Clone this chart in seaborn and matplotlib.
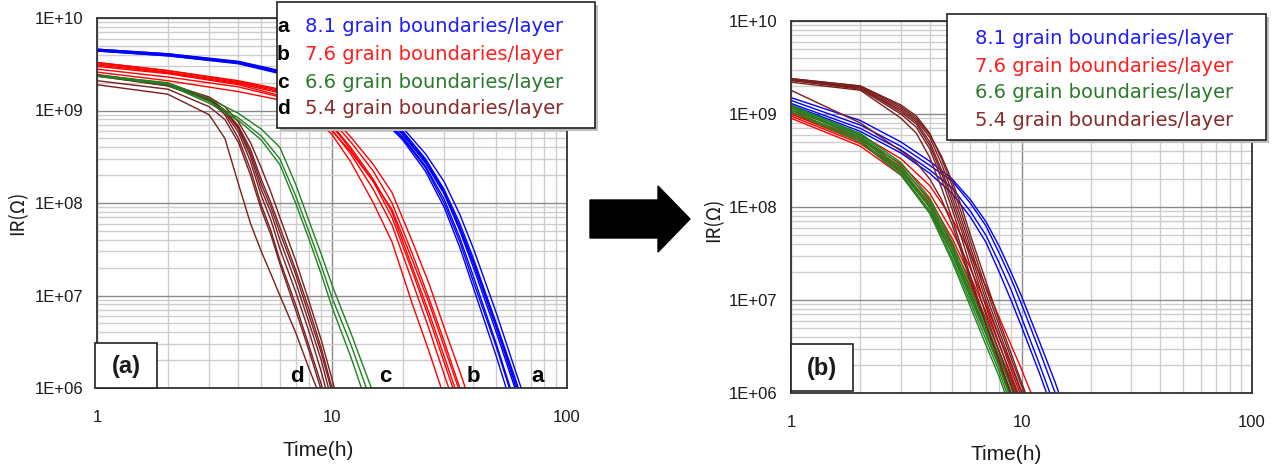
import numpy as np
import pandas as pd
import matplotlib
matplotlib.use("Agg")
import matplotlib.pyplot as plt
from matplotlib.patches import Rectangle, Polygon
from matplotlib.ticker import LogLocator, FixedLocator, FixedFormatter, NullFormatter
import seaborn as sns

# ---------------- data ----------------
groups = ["8.1", "7.6", "6.6", "5.4"]
group_letters = ["a", "b", "c", "d"]
legend_labels = [
    "8.1 grain boundaries/layer",
    "7.6 grain boundaries/layer",
    "6.6 grain boundaries/layer",
    "5.4 grain boundaries/layer",
]
line_colors = ["#0000ff", "#ff0000", "#1f821f", "#7b1d1d"]
text_colors = ["#1c1cff", "#ff1e1e", "#2a7a2a", "#8b2a2a"]

y_ticks = [1e6, 1e7, 1e8, 1e9, 1e10]
y_ticklabels = ["1E+06", "1E+07", "1E+08", "1E+09", "1E+10"]
x_ticks = [1, 10, 100]
x_ticklabels = ["1", "10", "100"]

# panel (a): IR (ohm) vs time (h) for each sample
a_time_81 = [1, 2, 4, 6, 10, 15, 20, 25, 30, 35, 40, 50, 60, 70]
a_ir_81 = [
    [4.5e9, 4.0e9, 3.3e9, 2.6e9, 2.0e9, 1.1e9, 5.6e8, 2.8e8, 1.3e8, 5.0e7, 2.0e7, 4.0e6, 1.0e6, 3.2e5],
    [4.4e9, 3.9e9, 3.2e9, 2.5e9, 1.9e9, 1.0e9, 4.8e8, 2.2e8, 9.0e7, 3.3e7, 1.2e7, 2.2e6, 5.0e5, 1.5e5],
    [4.6e9, 4.1e9, 3.4e9, 2.7e9, 2.1e9, 1.2e9, 6.5e8, 3.4e8, 1.7e8, 7.5e7, 3.2e7, 6.5e6, 1.6e6, 5.0e5],
    [4.5e9, 4.0e9, 3.3e9, 2.6e9, 2.0e9, 1.15e9, 6.0e8, 3.0e8, 1.4e8, 6.0e7, 2.5e7, 5.0e6, 1.3e6, 4.0e5],
    [4.4e9, 3.9e9, 3.25e9, 2.55e9, 1.95e9, 1.05e9, 5.2e8, 2.5e8, 1.1e8, 4.2e7, 1.6e7, 3.0e6, 7.0e5, 2.0e5],
    [4.6e9, 4.1e9, 3.35e9, 2.65e9, 2.05e9, 1.15e9, 5.8e8, 2.9e8, 1.35e8, 5.5e7, 2.3e7, 4.8e6, 1.2e6, 3.5e5],
    [4.5e9, 4.0e9, 3.3e9, 2.6e9, 1.95e9, 1.05e9, 5.0e8, 2.4e8, 1.0e8, 3.8e7, 1.4e7, 2.8e6, 6.5e5, 2.0e5],
    [4.5e9, 4.0e9, 3.3e9, 2.6e9, 2.0e9, 1.1e9, 5.5e8, 2.7e8, 1.25e8, 5.2e7, 2.2e7, 4.5e6, 1.1e6, 3.4e5],
]
a_time_76 = [1, 2, 4, 6, 8, 10, 12, 15, 18, 22, 26, 30, 35, 40]
a_ir_76 = [
    [3.2e9, 2.6e9, 2.0e9, 1.6e9, 1.1e9, 7.0e8, 4.0e8, 1.8e8, 8.0e7, 2.0e7, 6.3e6, 2.2e6, 7.0e5, 2.5e5],
    [3.0e9, 2.5e9, 1.9e9, 1.45e9, 9.5e8, 5.5e8, 2.8e8, 1.0e8, 3.8e7, 8.0e6, 2.4e6, 8.0e5, 2.5e5, 1.0e5],
    [3.3e9, 2.7e9, 2.1e9, 1.7e9, 1.25e9, 8.5e8, 5.2e8, 2.6e8, 1.3e8, 3.8e7, 1.3e7, 4.5e6, 1.5e6, 5.5e5],
    [2.8e9, 2.3e9, 1.8e9, 1.4e9, 1.0e9, 6.2e8, 3.4e8, 1.4e8, 5.8e7, 1.4e7, 4.2e6, 1.4e6, 4.5e5, 1.6e5],
    [3.3e9, 2.7e9, 2.05e9, 1.65e9, 1.2e9, 7.8e8, 4.6e8, 2.2e8, 1.0e8, 2.8e7, 9.0e6, 3.2e6, 1.0e6, 3.5e5],
    [3.1e9, 2.55e9, 1.95e9, 1.55e9, 1.1e9, 6.8e8, 3.8e8, 1.7e8, 7.0e7, 1.8e7, 5.5e6, 1.9e6, 6.0e5, 2.0e5],
    [2.6e9, 2.1e9, 1.6e9, 1.3e9, 9.2e8, 6.0e8, 3.6e8, 1.7e8, 8.5e7, 2.4e7, 8.0e6, 2.8e6, 9.0e5, 3.2e5],
]
a_time_66 = [1, 2, 3, 4, 5, 6, 7, 8, 9, 10, 12, 14, 16]
a_ir_66 = [
    [2.4e9, 2.0e9, 1.35e9, 9.3e8, 6.3e8, 4.0e8, 1.6e8, 6.3e7, 2.8e7, 1.3e7, 4.0e6, 1.4e6, 5.6e5],
    [2.4e9, 1.95e9, 1.25e9, 8.3e8, 5.3e8, 3.0e8, 1.2e8, 4.8e7, 2.1e7, 9.5e6, 3.0e6, 1.0e6, 4.0e5],
    [2.35e9, 1.9e9, 1.2e9, 7.8e8, 4.8e8, 2.6e8, 1.0e8, 4.0e7, 1.7e7, 7.5e6, 2.2e6, 7.0e5, 2.8e5],
]
a_time_54 = [1, 2, 3, 3.5, 4, 4.5, 5, 5.5, 6, 7, 8, 9, 10, 11]
a_ir_54 = [
    [2.4e9, 1.9e9, 1.35e9, 1.0e9, 6.3e8, 3.2e8, 1.4e8, 7.9e7, 4.0e7, 1.4e7, 5.0e6, 2.0e6, 7.1e5, 3.2e5],
    [1.9e9, 1.5e9, 9.0e8, 5.0e8, 1.6e8, 6.0e7, 3.0e7, 1.7e7, 1.0e7, 4.0e6, 1.6e6, 7.5e5, 3.2e5, 1.5e5],
    [2.4e9, 1.85e9, 1.3e9, 9.0e8, 5.0e8, 2.3e8, 9.5e7, 5.0e7, 2.4e7, 8.0e6, 2.8e6, 1.1e6, 4.0e5, 1.8e5],
    [2.4e9, 1.9e9, 1.35e9, 1.0e9, 6.5e8, 3.5e8, 1.6e8, 9.0e7, 4.8e7, 1.7e7, 6.0e6, 2.4e6, 9.0e5, 4.0e5],
    [2.45e9, 1.95e9, 1.4e9, 1.1e9, 7.5e8, 4.5e8, 2.4e8, 1.3e8, 7.0e7, 2.4e7, 8.5e6, 3.3e6, 1.25e6, 5.0e5],
    [2.35e9, 1.85e9, 1.3e9, 9.5e8, 5.8e8, 2.8e8, 1.2e8, 6.5e7, 3.2e7, 1.1e7, 4.0e6, 1.5e6, 5.5e5, 2.3e5],
    [2.4e9, 1.9e9, 1.35e9, 1.0e9, 6.8e8, 3.8e8, 1.8e8, 1.0e8, 5.5e7, 1.9e7, 7.0e6, 2.7e6, 1.0e6, 4.2e5],
    [2.1e9, 1.7e9, 1.1e9, 8.0e8, 4.5e8, 2.0e8, 8.5e7, 4.5e7, 2.2e7, 7.0e6, 2.5e6, 9.5e5, 3.8e5, 1.6e5],
]

# panel (b)
b_time_81 = [1, 2, 3, 4, 5, 6, 7, 8, 9, 10, 12, 14, 16]
b_ir_81 = [
    [1.4e9, 7.6e8, 4.5e8, 2.8e8, 1.9e8, 1.1e8, 6.3e7, 3.2e7, 1.7e7, 9.0e6, 2.8e6, 1.0e6, 4.0e5],
    [1.5e9, 8.5e8, 5.0e8, 3.1e8, 2.0e8, 1.2e8, 7.0e7, 3.8e7, 2.0e7, 1.1e7, 3.5e6, 1.3e6, 5.0e5],
    [1.25e9, 6.5e8, 3.8e8, 2.3e8, 1.4e8, 7.8e7, 4.2e7, 2.0e7, 1.0e7, 5.2e6, 1.6e6, 5.5e5, 2.2e5],
    [1.3e9, 7.0e8, 4.1e8, 2.5e8, 1.6e8, 9.0e7, 5.0e7, 2.5e7, 1.3e7, 6.5e6, 2.0e6, 7.0e5, 2.8e5],
]
b_time_76 = [1, 2, 3, 4, 5, 6, 7, 8, 9, 10, 11, 12]
b_ir_76 = [
    [1.0e9, 5.0e8, 2.5e8, 1.1e8, 4.0e7, 1.6e7, 6.3e6, 2.8e6, 1.4e6, 7.0e5, 4.0e5, 2.2e5],
    [9.0e8, 4.5e8, 2.2e8, 9.0e7, 3.2e7, 1.2e7, 4.5e6, 2.0e6, 9.5e5, 4.8e5, 2.5e5, 1.4e5],
    [1.05e9, 5.5e8, 2.9e8, 1.4e8, 5.5e7, 2.2e7, 9.0e6, 4.0e6, 2.0e6, 1.0e6, 5.5e5, 3.0e5],
    [1.1e9, 6.0e8, 3.3e8, 1.7e8, 7.5e7, 3.2e7, 1.4e7, 6.5e6, 3.3e6, 1.8e6, 1.0e6, 5.5e5],
    [9.5e8, 4.8e8, 2.4e8, 1.0e8, 3.6e7, 1.4e7, 5.5e6, 2.4e6, 1.2e6, 6.0e5, 3.2e5, 1.8e5],
    [1.0e9, 5.3e8, 2.7e8, 1.2e8, 4.6e7, 1.8e7, 7.5e6, 3.3e6, 1.6e6, 8.0e5, 4.5e5, 2.5e5],
]
b_time_66 = [1, 2, 3, 4, 5, 6, 7, 8, 9, 10]
b_ir_66 = [
    [1.18e9, 5.6e8, 2.5e8, 1.0e8, 3.2e7, 1.1e7, 4.5e6, 2.0e6, 9.0e5, 4.5e5],
    [1.25e9, 6.0e8, 2.8e8, 1.15e8, 3.8e7, 1.3e7, 5.5e6, 2.5e6, 1.15e6, 5.8e5],
    [1.1e9, 5.2e8, 2.3e8, 9.0e7, 2.8e7, 9.5e6, 3.8e6, 1.7e6, 7.5e5, 3.8e5],
    [1.2e9, 5.8e8, 2.6e8, 1.05e8, 3.5e7, 1.2e7, 5.0e6, 2.2e6, 1.0e6, 5.0e5],
    [1.05e9, 5.0e8, 2.2e8, 8.5e7, 2.6e7, 8.5e6, 3.3e6, 1.5e6, 6.5e5, 3.2e5],
    [1.15e9, 5.5e8, 2.45e8, 9.8e7, 3.1e7, 1.05e7, 4.3e6, 1.9e6, 8.5e5, 4.2e5],
    [1.22e9, 6.2e8, 3.0e8, 1.25e8, 4.2e7, 1.5e7, 6.2e6, 2.8e6, 1.3e6, 6.5e5],
]
b_time_54 = [1, 2, 3, 3.5, 4, 4.5, 5, 5.5, 6, 7, 8, 9, 10, 11]
b_ir_54 = [
    [2.35e9, 1.9e9, 1.1e9, 8.2e8, 5.0e8, 2.5e8, 1.26e8, 6.3e7, 3.2e7, 1.0e7, 4.0e6, 1.8e6, 9.0e5, 5.0e5],
    [1.8e9, 8.0e8, 4.0e8, 3.0e8, 2.0e8, 1.2e8, 6.5e7, 3.2e7, 1.6e7, 5.5e6, 2.2e6, 1.0e6, 5.0e5, 2.6e5],
    [2.4e9, 2.0e9, 1.25e9, 9.5e8, 6.2e8, 3.3e8, 1.7e8, 8.5e7, 4.3e7, 1.35e7, 5.3e6, 2.4e6, 1.2e6, 6.5e5],
    [2.3e9, 1.85e9, 1.0e9, 7.2e8, 4.2e8, 2.0e8, 9.5e7, 4.6e7, 2.3e7, 7.0e6, 2.8e6, 1.25e6, 6.0e5, 3.2e5],
    [2.35e9, 1.95e9, 1.15e9, 8.6e8, 5.6e8, 2.9e8, 1.45e8, 7.3e7, 3.7e7, 1.15e7, 4.6e6, 2.1e6, 1.05e6, 5.7e5],
    [2.2e9, 1.8e9, 9.0e8, 6.2e8, 3.4e8, 1.6e8, 7.5e7, 3.6e7, 1.8e7, 5.6e6, 2.2e6, 1.0e6, 4.8e5, 2.5e5],
    [2.4e9, 2.0e9, 1.2e9, 9.0e8, 6.0e8, 3.5e8, 1.9e8, 1.0e8, 5.0e7, 1.6e7, 6.0e6, 2.7e6, 1.3e6, 7.0e5],
    [2.3e9, 1.9e9, 1.05e9, 7.8e8, 4.6e8, 2.3e8, 1.1e8, 5.5e7, 2.8e7, 8.5e6, 3.4e6, 1.5e6, 7.5e5, 4.0e5],
]


def long_table(series):
    rows = []
    for grp, times, curves in series:
        for k, ir in enumerate(curves):
            for t, v in zip(times, ir):
                rows.append({"group": grp, "curve": f"{grp}-{k}", "time": t, "ir": v})
    return pd.DataFrame(rows)


df_a = long_table([
    ("8.1", a_time_81, a_ir_81),
    ("7.6", a_time_76, a_ir_76),
    ("6.6", a_time_66, a_ir_66),
    ("5.4", a_time_54, a_ir_54),
])
df_b = long_table([
    ("8.1", b_time_81, b_ir_81),
    ("7.6", b_time_76, b_ir_76),
    ("6.6", b_time_66, b_ir_66),
    ("5.4", b_time_54, b_ir_54),
])

# ---------------- figure ----------------
sns.set_theme(style="white")
plt.rcParams["font.family"] = ["Liberation Sans", "DejaVu Sans"]

W, H = 1278, 471
fig = plt.figure(figsize=(W / 100, H / 100), dpi=100)


def fx(x):
    return x / W


def fy(y):
    return 1 - y / H


def axes_box(x0, y0, x1, y1):
    return [fx(x0), fy(y1), (x1 - x0) / W, (y1 - y0) / H]


ax_a = fig.add_axes(axes_box(97, 18, 567, 388))
ax_b = fig.add_axes(axes_box(791, 21, 1252, 393))

palette = dict(zip(groups, line_colors))

for ax, df, order in [(ax_a, df_a, ["5.4", "6.6", "7.6", "8.1"]),
                      (ax_b, df_b, ["8.1", "7.6", "6.6", "5.4"])]:
    sns.lineplot(data=df, x="time", y="ir", hue="group", units="curve",
                 estimator=None, hue_order=order, palette=palette,
                 linewidth=1.0, legend=False, ax=ax)
    ax.set_xscale("log")
    ax.set_yscale("log")
    ax.set_xlim(1, 100)
    ax.set_ylim(1e6, 1e10)
    ax.xaxis.set_major_locator(FixedLocator(x_ticks))
    ax.xaxis.set_major_formatter(FixedFormatter(x_ticklabels))
    ax.yaxis.set_major_locator(FixedLocator(y_ticks))
    ax.yaxis.set_major_formatter(FixedFormatter(y_ticklabels))
    ax.xaxis.set_minor_locator(LogLocator(base=10, subs=np.arange(2, 10)))
    ax.yaxis.set_minor_locator(LogLocator(base=10, subs=np.arange(2, 10)))
    ax.xaxis.set_minor_formatter(NullFormatter())
    ax.yaxis.set_minor_formatter(NullFormatter())
    ax.grid(which="minor", color="#cdcdcd", linewidth=1.0)
    ax.grid(which="major", color="#8a8a8a", linewidth=1.0)
    ax.set_axisbelow(True)
    ax.tick_params(which="both", length=0)
    ax.tick_params(axis="y", pad=10, labelsize=12, labelcolor="#1a1a1a")
    ax.tick_params(axis="x", pad=16, labelsize=12, labelcolor="#1a1a1a")
    ax.set_xlabel("")
    ax.set_ylabel("")
    for s in ax.spines.values():
        s.set_color("#333333")
        s.set_linewidth(1.3)

# axis titles
for xc, yc in [(318, 451), (1006, 455)]:
    fig.text(fx(xc), fy(yc), "Time(h)", ha="center", va="center",
             fontsize=15, color="#1a1a1a")
for xc, yc in [(18, 213), (714, 220)]:
    fig.text(fx(xc), fy(yc), "IR(Ω)", ha="center", va="center", rotation=90,
             fontsize=13.5, color="#1a1a1a",
             family=["Noto Sans CJK JP", "DejaVu Sans"])


def boxed(x0, y0, x1, y1, lw=1.2, shadow=False):
    if shadow:
        fig.add_artist(Rectangle((fx(x0 + 3), fy(y1 + 3)), (x1 - x0) / W, (y1 - y0) / H,
                                 transform=fig.transFigure, facecolor="#bdbdbd",
                                 edgecolor="none", zorder=9))
    fig.add_artist(Rectangle((fx(x0), fy(y1)), (x1 - x0) / W, (y1 - y0) / H,
                             transform=fig.transFigure, facecolor="white",
                             edgecolor="#222222", linewidth=lw, zorder=10))


# panel (a) legend with letters
boxed(277, 2, 595, 128, shadow=True)
for i, yc in enumerate([27, 55, 82, 108]):
    fig.text(fx(283), fy(yc), group_letters[i], ha="center", va="center",
             fontsize=15, fontweight="bold", color="black", zorder=11)
    fig.text(fx(305), fy(yc), legend_labels[i], ha="left", va="center",
             fontsize=14, color=text_colors[i], family="DejaVu Sans", zorder=11)

# panel (b) legend
boxed(947, 14, 1266, 140, shadow=True)
for i, yc in enumerate([38, 66, 93, 120]):
    fig.text(fx(975), fy(yc), legend_labels[i], ha="left", va="center",
             fontsize=14, color=text_colors[i], family="DejaVu Sans", zorder=11)

# panel tags
boxed(95, 343, 157, 388)
fig.text(fx(126), fy(366), "(a)", ha="center", va="center", fontsize=17,
         fontweight="bold", color="#1a1a1a", zorder=11)
boxed(791, 344, 853, 391)
fig.text(fx(822), fy(368), "(b)", ha="center", va="center", fontsize=17,
         fontweight="bold", color="#1a1a1a", zorder=11)

# curve-group letters along the bottom of panel (a)
for letter, xc in zip(["d", "c", "b", "a"], [297, 385, 473, 538]):
    fig.text(fx(xc), fy(376), letter, ha="center", va="center", fontsize=16,
             fontweight="bold", color="black", zorder=11)

# arrow between the panels
arrow_px = [(590, 200), (658, 200), (658, 186), (690, 219),
            (658, 252), (658, 238), (590, 238)]
fig.add_artist(Polygon([(fx(x), fy(y)) for x, y in arrow_px], closed=True,
                       transform=fig.transFigure, facecolor="black",
                       edgecolor="black", zorder=10))

fig.savefig("out.png", dpi=100)
